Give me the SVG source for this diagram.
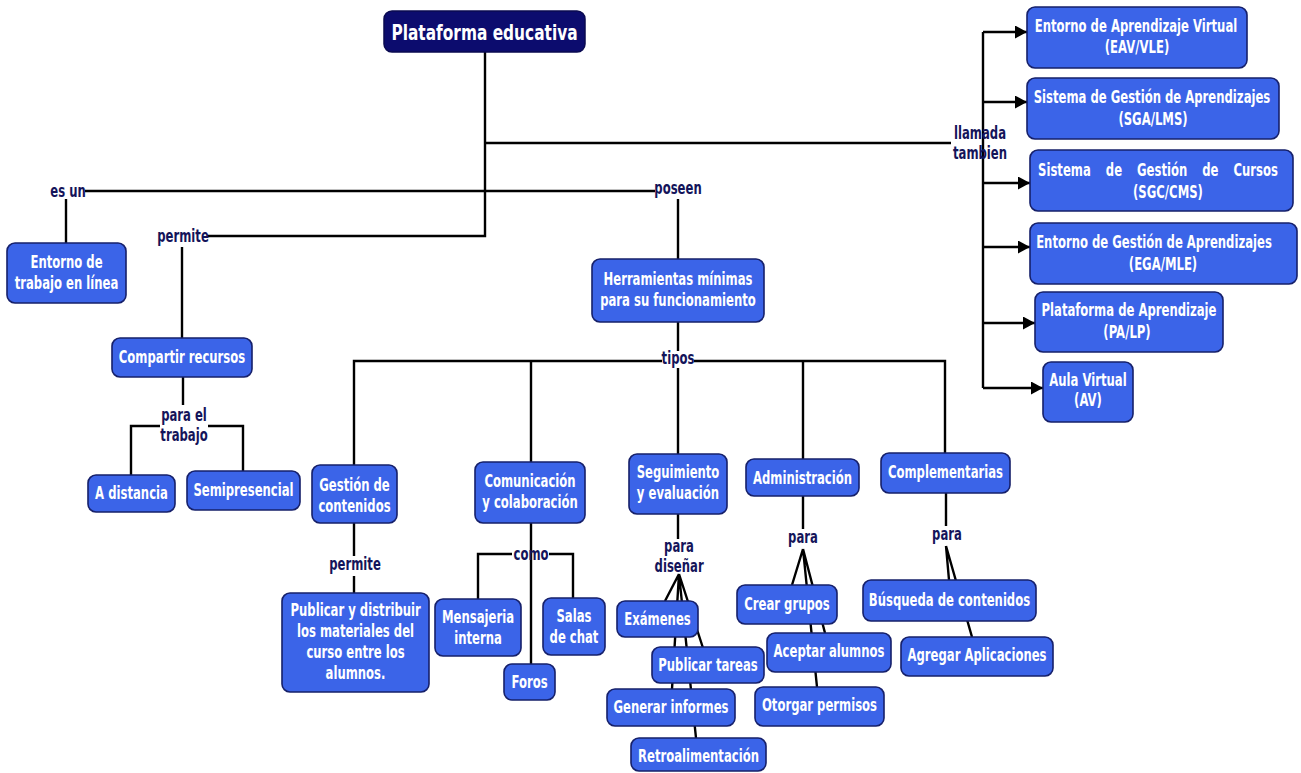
<svg xmlns="http://www.w3.org/2000/svg" width="1301" height="773" viewBox="0 0 1301 773">
<style>
.bg{fill:#ffffff}
.n{fill:#3b64e8;stroke:#16206a;stroke-width:1.6}
.root{fill:#0c0c6e;stroke:#0a0a50;stroke-width:1.5}
.c{fill:none;stroke:#000;stroke-width:2.4}
.a{fill:none;stroke:#000;stroke-width:2.4;marker-end:url(#arr)}
.t{font-family:"DejaVu Sans","Liberation Sans",sans-serif;font-weight:bold;font-size:17px;text-anchor:middle;transform-box:fill-box;transform-origin:center;transform:scaleX(0.685)}
.w{fill:#ffffff}
.l{fill:#14145a}
.rt{font-size:22px;transform:scaleX(0.7)}
</style>
<defs>
<marker id="arr" markerUnits="userSpaceOnUse" markerWidth="13" markerHeight="13" refX="12" refY="6.5" orient="auto">
<path d="M0,0 L12,6.5 L0,13 z" fill="#000"/>
</marker>
</defs>
<rect class="bg" x="0" y="0" width="1301" height="773"/>

<g id="connectors">
<path class="c" d="M485,52 V236 H208"/>
<path class="c" d="M85,191 H655"/>
<path class="c" d="M485,143 H951"/>
<path class="c" d="M66,199 V243"/>
<path class="c" d="M182,247 V338"/>
<path class="c" d="M183,377 V405"/>
<path class="c" d="M160,426 H131 V475"/>
<path class="c" d="M208,426 H243 V471"/>
<path class="c" d="M983,32 V388"/>
<path class="a" d="M983,32 H1027"/>
<path class="a" d="M983,102 H1027"/>
<path class="a" d="M983,183 H1030"/>
<path class="a" d="M983,247 H1030"/>
<path class="a" d="M983,323 H1035"/>
<path class="a" d="M983,388 H1043"/>
<path class="c" d="M678,199 V259"/>
<path class="c" d="M678,322 V351"/>
<path class="c" d="M678,368 V454"/>
<path class="c" d="M354,465 V361 H662"/>
<path class="c" d="M694,361 H945 V453"/>
<path class="c" d="M531,361 V462"/>
<path class="c" d="M803,361 V459"/>
<path class="c" d="M354,523 V556"/>
<path class="c" d="M354,576 V593"/>
<path class="c" d="M531,523 V664"/>
<path class="c" d="M512,554 H478 V599"/>
<path class="c" d="M549,554 H573 V598"/>
<path class="c" d="M678,514 V539"/>
<path class="c" d="M679,574 L665,601 M679,574 L703,648 M679,574 L672,689 M679,574 L696,738"/>
<path class="c" d="M803,496 V529"/>
<path class="c" d="M803,549 L792,585 M803,549 L825,633 M803,549 L817,687"/>
<path class="c" d="M946,493 V526"/>
<path class="c" d="M946,546 L949,580 M946,546 L972,637"/>
</g>

<g id="labels">
<text class="t l" x="68" y="197">es un</text>
<text class="t l" x="183" y="242">permite</text>
<text class="t l" x="678" y="194">poseen</text>
<text class="t l" x="980" y="139">llamada</text>
<text class="t l" x="980" y="159">tambien</text>
<text class="t l" x="184" y="421">para el</text>
<text class="t l" x="184" y="441">trabajo</text>
<text class="t l" x="678" y="364">tipos</text>
<text class="t l" x="355" y="570">permite</text>
<text class="t l" x="531" y="560">como</text>
<text class="t l" x="679" y="552">para</text>
<text class="t l" x="679" y="572">diseñar</text>
<text class="t l" x="803" y="543">para</text>
<text class="t l" x="947" y="540">para</text>
</g>

<g id="n-root"><rect class="root" x="384" y="11" width="201" height="41" rx="8"/><text class="t w rt" x="484.5" y="40">Plataforma educativa</text></g>

<g id="n-entorno"><rect class="n" x="7" y="243" width="119" height="60" rx="8"/><text class="t w" x="66.5" y="268">Entorno de</text><text class="t w" x="66.5" y="289">trabajo en línea</text></g>
<g id="n-compartir"><rect class="n" x="112" y="338" width="140" height="39" rx="8"/><text class="t w" x="182" y="363">Compartir recursos</text></g>
<g id="n-adistancia"><rect class="n" x="88" y="475" width="87" height="37" rx="8"/><text class="t w" x="131.5" y="499">A distancia</text></g>
<g id="n-semi"><rect class="n" x="187" y="471" width="113" height="39" rx="8"/><text class="t w" x="243.5" y="496">Semipresencial</text></g>
<g id="n-gestion"><rect class="n" x="312" y="465" width="85" height="58" rx="8"/><text class="t w" x="354.5" y="491">Gestión de</text><text class="t w" x="354.5" y="512">contenidos</text></g>
<g id="n-publicar"><rect class="n" x="282" y="593" width="147" height="99" rx="8"/><text class="t w" x="355.5" y="616">Publicar y distribuir</text><text class="t w" x="355.5" y="637">los materiales del</text><text class="t w" x="355.5" y="658">curso entre los</text><text class="t w" x="355.5" y="679">alumnos.</text></g>
<g id="n-comunicacion"><rect class="n" x="475" y="462" width="110" height="61" rx="8"/><text class="t w" x="530" y="487">Comunicación</text><text class="t w" x="530" y="508">y colaboración</text></g>
<g id="n-mensajeria"><rect class="n" x="435" y="599" width="86" height="57" rx="8"/><text class="t w" x="478" y="623">Mensajeria</text><text class="t w" x="478" y="644">interna</text></g>
<g id="n-salas"><rect class="n" x="543" y="598" width="62" height="57" rx="8"/><text class="t w" x="574" y="622">Salas</text><text class="t w" x="574" y="643">de chat</text></g>
<g id="n-foros"><rect class="n" x="504" y="664" width="51" height="36" rx="8"/><text class="t w" x="529.5" y="688">Foros</text></g>
<g id="n-herramientas"><rect class="n" x="592" y="259" width="172" height="63" rx="8"/><text class="t w" x="678" y="285">Herramientas mínimas</text><text class="t w" x="678" y="306">para su funcionamiento</text></g>
<g id="n-seguimiento"><rect class="n" x="629" y="454" width="98" height="60" rx="8"/><text class="t w" x="678" y="478">Seguimiento</text><text class="t w" x="678" y="499">y evaluación</text></g>
<g id="n-examenes"><rect class="n" x="617" y="601" width="81" height="36" rx="8"/><text class="t w" x="657.5" y="625">Exámenes</text></g>
<g id="n-pubtareas"><rect class="n" x="652" y="647" width="112" height="36" rx="8"/><text class="t w" x="708" y="671">Publicar tareas</text></g>
<g id="n-generar"><rect class="n" x="607" y="689" width="128" height="37" rx="8"/><text class="t w" x="671" y="713">Generar informes</text></g>
<g id="n-retro"><rect class="n" x="631" y="738" width="135" height="33" rx="8"/><text class="t w" x="698.5" y="762">Retroalimentación</text></g>
<g id="n-admin"><rect class="n" x="746" y="459" width="113" height="37" rx="8"/><text class="t w" x="802.5" y="484">Administración</text></g>
<g id="n-crear"><rect class="n" x="737" y="585" width="100" height="39" rx="8"/><text class="t w" x="787" y="610">Crear grupos</text></g>
<g id="n-aceptar"><rect class="n" x="767" y="633" width="124" height="39" rx="8"/><text class="t w" x="829" y="657">Aceptar alumnos</text></g>
<g id="n-otorgar"><rect class="n" x="755" y="687" width="129" height="39" rx="8"/><text class="t w" x="819.5" y="711">Otorgar permisos</text></g>
<g id="n-complementarias"><rect class="n" x="881" y="453" width="129" height="40" rx="8"/><text class="t w" x="945.5" y="478">Complementarias</text></g>
<g id="n-busqueda"><rect class="n" x="863" y="580" width="173" height="41" rx="8"/><text class="t w" x="949.5" y="606">Búsqueda de contenidos</text></g>
<g id="n-agregar"><rect class="n" x="901" y="637" width="152" height="39" rx="8"/><text class="t w" x="977" y="661">Agregar Aplicaciones</text></g>

<g id="n-eav"><rect class="n" x="1027" y="7" width="220" height="61" rx="8"/><text class="t w" x="1136" y="32">Entorno de Aprendizaje Virtual</text><text class="t w" x="1137" y="53">(EAV/VLE)</text></g>
<g id="n-sga"><rect class="n" x="1027" y="78" width="252" height="61" rx="8"/><text class="t w" x="1152" y="103">Sistema de Gestión de Aprendizajes</text><text class="t w" x="1153" y="125">(SGA/LMS)</text></g>
<g id="n-sgc"><rect class="n" x="1030" y="150" width="263" height="61" rx="8"/><text class="t w" x="1158" y="176" style="word-spacing:16px">Sistema de Gestión de Cursos</text><text class="t w" x="1168" y="198">(SGC/CMS)</text></g>
<g id="n-ega"><rect class="n" x="1030" y="223" width="267" height="61" rx="8"/><text class="t w" x="1154" y="248">Entorno de Gestión de Aprendizajes</text><text class="t w" x="1163" y="270">(EGA/MLE)</text></g>
<g id="n-pa"><rect class="n" x="1035" y="292" width="188" height="60" rx="8"/><text class="t w" x="1129" y="316">Plataforma de Aprendizaje</text><text class="t w" x="1127" y="338">(PA/LP)</text></g>
<g id="n-av"><rect class="n" x="1043" y="362" width="90" height="60" rx="8"/><text class="t w" x="1088" y="386">Aula Virtual</text><text class="t w" x="1088" y="406">(AV)</text></g>
</svg>
